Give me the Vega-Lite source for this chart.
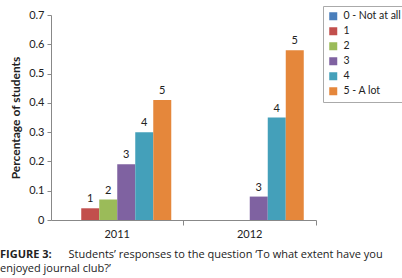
{
  "$schema": "https://vega.github.io/schema/vega-lite/v6.json",
  "width": 265,
  "height": 205,
  "autosize": {"type": "none"},
  "padding": {"left": 51, "top": 15, "right": 86, "bottom": 58},
  "config": {"font": "Lato", "view": {"stroke": null}},
  "title": {
    "text": "FIGURE 3:",
    "subtitle": ["\u200b\u00a0\u00a0\u00a0\u00a0\u00a0\u00a0\u00a0\u00a0\u00a0\u00a0\u00a0\u00a0\u00a0\u00a0\u00a0\u00a0\u00a0\u00a0\u00a0\u00a0\u00a0\u00a0\u00a0\u00a0Students’ responses to the question ‘To what extent have you", "enjoyed journal club?’"],
    "orient": "bottom",
    "anchor": "start",
    "frame": "group",
    "dx": -51,
    "offset": 10,
    "font": "Open Sans",
    "fontSize": 11,
    "fontWeight": "bold",
    "color": "#222",
    "subtitleFont": "Open Sans",
    "subtitleFontSize": 11,
    "subtitleColor": "#222",
    "subtitleLineHeight": 14,
    "subtitlePadding": -11
  },
  "data": {
    "values": [
      {"year": "2011", "response": "0 - Not at all", "label": "0", "value": 0},
      {"year": "2011", "response": "1", "label": "1", "value": 0.04},
      {"year": "2011", "response": "2", "label": "2", "value": 0.07},
      {"year": "2011", "response": "3", "label": "3", "value": 0.19},
      {"year": "2011", "response": "4", "label": "4", "value": 0.30},
      {"year": "2011", "response": "5 - A lot", "label": "5", "value": 0.41},
      {"year": "2012", "response": "0 - Not at all", "label": "0", "value": 0},
      {"year": "2012", "response": "1", "label": "1", "value": 0},
      {"year": "2012", "response": "2", "label": "2", "value": 0},
      {"year": "2012", "response": "3", "label": "3", "value": 0.08},
      {"year": "2012", "response": "4", "label": "4", "value": 0.35},
      {"year": "2012", "response": "5 - A lot", "label": "5", "value": 0.58}
    ]
  },
  "encoding": {
    "x": {
      "field": "year",
      "type": "nominal",
      "scale": {"paddingInner": 0, "paddingOuter": 0},
      "axis": {
        "title": null,
        "labelAngle": 0,
        "bandPosition": 1,
        "labelFontSize": 11,
        "labelColor": "#222",
        "labelPadding": 3,
        "domainColor": "#888",
        "tickColor": "#888",
        "tickSize": 5,
        "labelAlign": "center",
        "labelOffset": 0
      }
    },
    "xOffset": {
      "field": "response",
      "type": "nominal",
      "scale": {
        "domain": ["0 - Not at all", "1", "2", "3", "4", "5 - A lot"],
        "paddingInner": 0,
        "paddingOuter": 0.68
      }
    },
    "y": {
      "field": "value",
      "type": "quantitative",
      "scale": {"domain": [0, 0.7], "nice": false},
      "axis": {
        "title": "Percentage of students",
        "titleFontSize": 12,
        "titleFontWeight": "bold",
        "titleColor": "#222",
        "titlePadding": 6,
        "values": [0, 0.1, 0.2, 0.3, 0.4, 0.5, 0.6, 0.7],
        "format": ".1~f",
        "labelFontSize": 11,
        "labelColor": "#222",
        "labelPadding": 3,
        "grid": false,
        "domainColor": "#888",
        "tickColor": "#888",
        "tickSize": 4
      }
    }
  },
  "layer": [
    {
      "mark": {"type": "bar"},
      "encoding": {
        "color": {
          "field": "response",
          "type": "nominal",
          "scale": {
            "domain": ["0 - Not at all", "1", "2", "3", "4", "5 - A lot"],
            "range": ["#4A7EBB", "#C24F4C", "#9BBB59", "#7F62A1", "#44A0BA", "#E5873B"]
          },
          "legend": {
            "title": null,
            "orient": "none",
            "legendX": 272,
            "legendY": -9,
            "padding": 5,
            "strokeColor": "#aaa",
            "symbolType": "square",
            "symbolSize": 64,
            "symbolStrokeWidth": 0,
            "labelFontSize": 10.5,
            "labelColor": "#222",
            "labelOffset": 5,
            "rowPadding": 4
          }
        }
      }
    },
    {
      "transform": [{"filter": "datum.value > 0"}],
      "mark": {"type": "text", "baseline": "bottom", "dy": -4, "fontSize": 11, "color": "#222"},
      "encoding": {"text": {"field": "label", "type": "nominal"}}
    }
  ]
}
